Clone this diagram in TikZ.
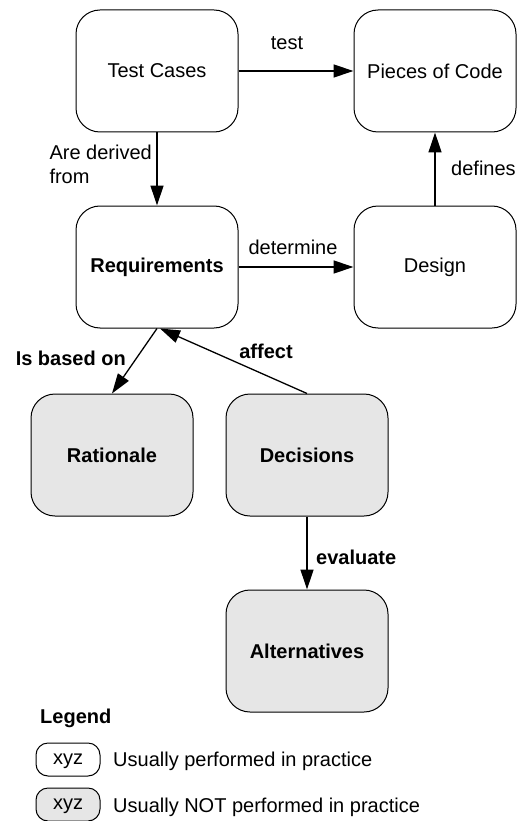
\documentclass[tikz,border=0pt]{standalone}
\usepackage{fontspec}
\setmainfont{Liberation Sans}
\usetikzlibrary{arrows.meta}
\definecolor{boxgray}{HTML}{E6E6E6}
\begin{document}
\begin{tikzpicture}[x=1pt,y=-1pt,
  font=\fontsize{20}{24}\selectfont,
  bigbox/.style={draw=black, line width=1pt, rounded corners=24pt, minimum width=162pt, minimum height=122pt, align=center, fill=white},
  graybox/.style={bigbox, fill=boxgray, font=\fontsize{20}{24}\selectfont\bfseries},
  legbox/.style={draw=black, line width=1pt, rounded corners=12pt, minimum width=64pt, minimum height=33pt, inner sep=0pt, text depth=0pt},
  conn/.style={line width=1.3pt, -{Triangle[length=20pt,width=13pt]}},
  lbl/.style={inner sep=0pt},
  blbl/.style={inner sep=0pt, font=\fontsize{20}{24}\selectfont\bfseries}
]
\useasboundingbox (0,0) rectangle (526,821);
\node[bigbox] (tc) at (157,71) {Test Cases};
\node[bigbox] (pc) at (435,71) {Pieces of Code};
\node[bigbox, font=\fontsize{20}{24}\selectfont\bfseries] (req) at (157,267) {Requirements};
\node[bigbox] (des) at (435,267) {Design};
\node[graybox] (rat) at (112,455) {Rationale};
\node[graybox] (dec) at (307,455) {Decisions};
\node[graybox] (alt) at (307,651) {Alternatives};

\draw[conn] (tc) -- (pc);
\draw[conn] (tc) -- (req);
\draw[conn] (des) -- (pc);
\draw[conn] (req) -- (des);
\draw[conn] (req.south) -- (rat.north);
\draw[conn] (dec.north) -- ([xshift=3pt]req.south);
\draw[conn] (dec) -- (alt);

\node[lbl] (ltest) at (287,43) {test};
\node[lbl, anchor=east, align=left] (lder) at (152,164) {Are derived\\from};
\node[lbl, anchor=west] (ldef) at (451,168) {defines};
\node[lbl] (ldet) at (293,247) {determine};
\node[blbl, anchor=east] (lbas) at (126,358) {Is based on};
\node[blbl] (laff) at (266,351) {affect};
\node[blbl, anchor=west] (leva) at (316,557) {evaluate};

\node[blbl, anchor=west] (leg) at (40,718) {Legend};
\node[legbox, fill=white] (lb1) at (68,759.5) {xyz};
\node[lbl, anchor=west] (lt1) at (113,761) {Usually performed in practice};
\node[legbox, fill=boxgray] (lb2) at (68,804.5) {xyz};
\node[lbl, anchor=west] (lt2) at (113,807) {Usually NOT performed in practice};
\end{tikzpicture}
\end{document}
